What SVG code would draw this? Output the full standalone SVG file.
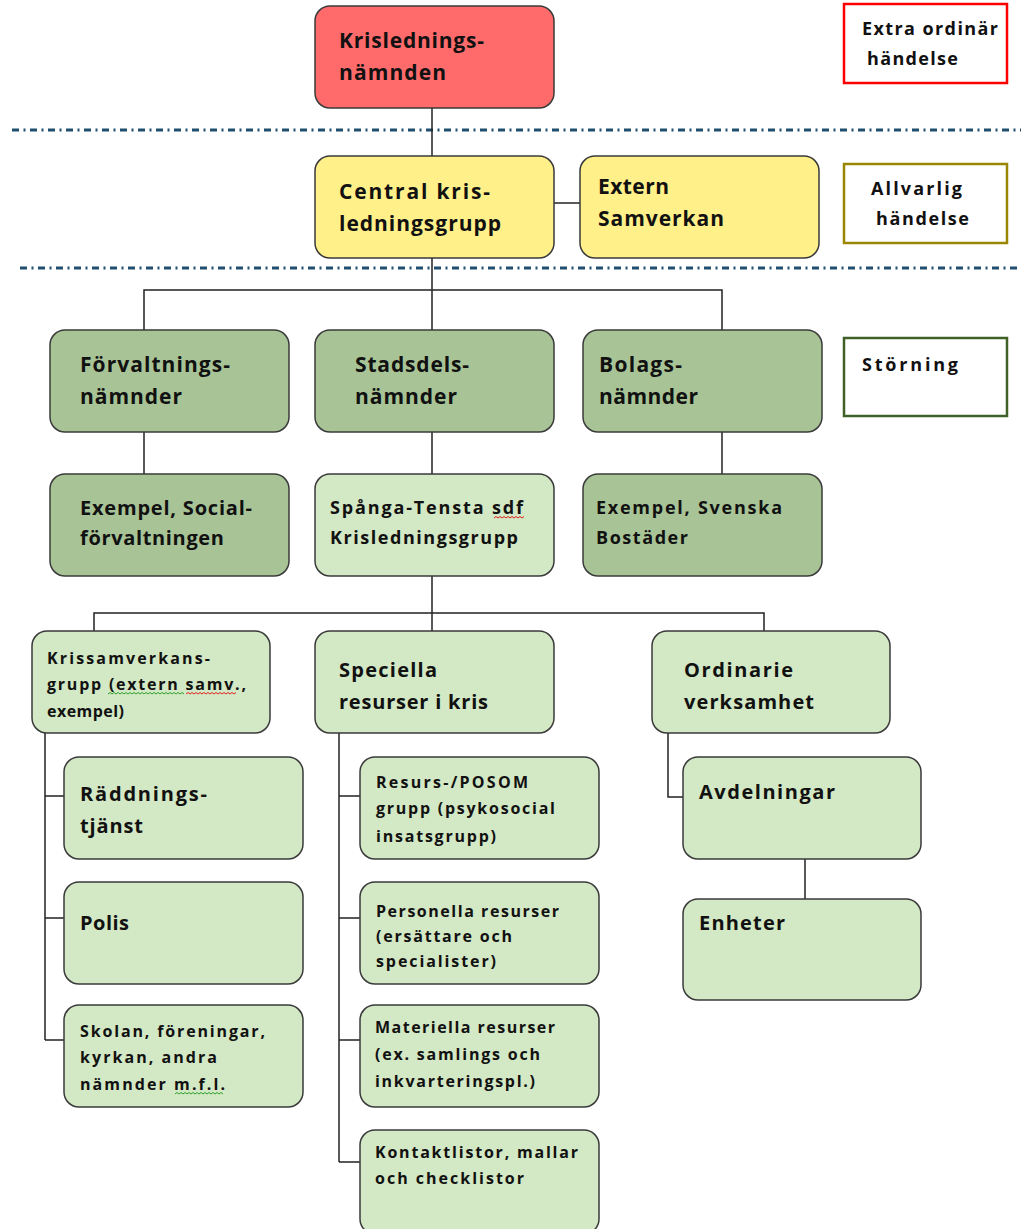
<svg xmlns="http://www.w3.org/2000/svg" width="1021" height="1229" viewBox="0 0 1021 1229">
<defs>
<style>
.n rect{stroke:#3a3a3a;stroke-width:1.5}
.red{fill:#FF6B6B}
.yel{fill:#FFF08A}
.dg{fill:#A8C497}
.lg{fill:#D3E8C4}
text{font-family:"Open Sans",Lato,"Liberation Sans",sans-serif;font-weight:bold;fill:#111}
.t21{font-size:21px}
.t20{font-size:20px}
.t18{font-size:18px}
.t16{font-size:16px}
.conn line,.conn polyline{stroke:#222;stroke-width:1.5;fill:none}
.sep{stroke:#1F4E6E;stroke-width:3;stroke-dasharray:7 4.5 2 4.5;fill:none}
.leg{fill:#fff;stroke-width:2.5}
.sq{fill:none;stroke-width:1}
</style>
</defs>
<rect width="1021" height="1229" fill="#fff"/>

<g id="separators">
<line class="sep" x1="12" y1="130" x2="1021" y2="130"/>
<line class="sep" x1="20" y1="268" x2="1021" y2="268"/>
</g>

<g class="conn" id="connectors">
<line x1="432" y1="108" x2="432" y2="156"/>
<line x1="554" y1="203" x2="580" y2="203"/>
<line x1="432" y1="258" x2="432" y2="330"/>
<polyline points="144,330 144,290 722,290 722,330"/>
<line x1="144" y1="432" x2="144" y2="474"/>
<line x1="432" y1="432" x2="432" y2="474"/>
<line x1="722" y1="432" x2="722" y2="474"/>
<line x1="432" y1="576" x2="432" y2="631"/>
<polyline points="94,631 94,613 764,613 764,631"/>
<line x1="45" y1="733" x2="45" y2="1040"/>
<line x1="45" y1="796" x2="64" y2="796"/>
<line x1="45" y1="918" x2="64" y2="918"/>
<line x1="45" y1="1040" x2="64" y2="1040"/>
<line x1="339" y1="733" x2="339" y2="1162"/>
<line x1="339" y1="796" x2="360" y2="796"/>
<line x1="339" y1="918" x2="360" y2="918"/>
<line x1="339" y1="1040" x2="360" y2="1040"/>
<line x1="339" y1="1162" x2="360" y2="1162"/>
<polyline points="668,733 668,797 683,797"/>
<line x1="805" y1="859" x2="805" y2="899"/>
</g>

<g id="legend-extra">
<rect class="leg" x="844" y="4" width="163" height="79" stroke="#FF0000"/>
<text class="t18" x="862" y="35" textLength="136" lengthAdjust="spacing">Extra ordinär</text>
<text class="t18" x="867" y="65" textLength="91" lengthAdjust="spacing">händelse</text>
</g>
<g id="legend-allvarlig">
<rect class="leg" x="844" y="164" width="163" height="79" stroke="#9A8600"/>
<text class="t18" x="871" y="195" textLength="91" lengthAdjust="spacing">Allvarlig</text>
<text class="t18" x="876" y="225" textLength="93" lengthAdjust="spacing">händelse</text>
</g>
<g id="legend-storning">
<rect class="leg" x="844" y="338" width="163" height="78" stroke="#3F6127"/>
<text class="t18" x="862" y="371" textLength="96" lengthAdjust="spacing">Störning</text>
</g>

<g class="n" id="krisledningsnamnden">
<rect class="red" x="315" y="6" width="239" height="102" rx="15"/>
<text class="t21" x="339" y="48" textLength="145" lengthAdjust="spacing">Krislednings-</text>
<text class="t21" x="339" y="80" textLength="107" lengthAdjust="spacing">nämnden</text>
</g>
<g class="n" id="central">
<rect class="yel" x="315" y="156" width="239" height="102" rx="15"/>
<text class="t21" x="339" y="199" textLength="151" lengthAdjust="spacing">Central kris-</text>
<text class="t21" x="339" y="231" textLength="162" lengthAdjust="spacing">ledningsgrupp</text>
</g>
<g class="n" id="extern">
<rect class="yel" x="580" y="156" width="239" height="102" rx="15"/>
<text class="t21" x="598" y="194" textLength="71" lengthAdjust="spacing">Extern</text>
<text class="t21" x="598" y="226" textLength="126" lengthAdjust="spacing">Samverkan</text>
</g>

<g class="n" id="forvaltningsnamnder">
<rect class="dg" x="50" y="330" width="239" height="102" rx="15"/>
<text class="t21" x="80" y="372" textLength="150" lengthAdjust="spacing">Förvaltnings-</text>
<text class="t21" x="80" y="404" textLength="102" lengthAdjust="spacing">nämnder</text>
</g>
<g class="n" id="stadsdelsnamnder">
<rect class="dg" x="315" y="330" width="239" height="102" rx="15"/>
<text class="t21" x="355" y="372" textLength="114" lengthAdjust="spacing">Stadsdels-</text>
<text class="t21" x="355" y="404" textLength="102" lengthAdjust="spacing">nämnder</text>
</g>
<g class="n" id="bolagsnamnder">
<rect class="dg" x="583" y="330" width="239" height="102" rx="15"/>
<text class="t21" x="599" y="372" textLength="83" lengthAdjust="spacing">Bolags-</text>
<text class="t21" x="599" y="404" textLength="99" lengthAdjust="spacing">nämnder</text>
</g>

<g class="n" id="socialforvaltningen">
<rect class="dg" x="50" y="474" width="239" height="102" rx="15"/>
<text class="t20" x="80" y="515" textLength="172" lengthAdjust="spacing">Exempel, Social-</text>
<text class="t20" x="80" y="545" textLength="144" lengthAdjust="spacing">förvaltningen</text>
</g>
<g class="n" id="spanga">
<rect class="lg" x="315" y="474" width="239" height="102" rx="15"/>
<text class="t18" x="330" y="514" textLength="193" lengthAdjust="spacing">Spånga-Tensta sdf</text>
<text class="t18" x="330" y="544" textLength="188" lengthAdjust="spacing">Krisledningsgrupp</text>
<path class="sq" stroke="#E02020" d="M494 518 l2 -1.5 l2 1.5 l2 -1.5 l2 1.5 l2 -1.5 l2 1.5 l2 -1.5 l2 1.5 l2 -1.5 l2 1.5 l2 -1.5 l2 1.5 l2 -1.5 l2 1.5 l2 -1.5"/>
</g>
<g class="n" id="svenskabostader">
<rect class="dg" x="583" y="474" width="239" height="102" rx="15"/>
<text class="t18" x="596" y="514" textLength="186" lengthAdjust="spacing">Exempel, Svenska</text>
<text class="t18" x="596" y="544" textLength="92" lengthAdjust="spacing">Bostäder</text>
</g>

<g class="n" id="krissamverkansgrupp">
<rect class="lg" x="32" y="631" width="238" height="102" rx="15"/>
<text class="t16" x="47" y="664" textLength="163" lengthAdjust="spacing">Krissamverkans-</text>
<text class="t16" x="47" y="690" textLength="199" lengthAdjust="spacing">grupp (extern samv.,</text>
<text class="t16" x="47" y="717" textLength="77" lengthAdjust="spacing">exempel)</text>
<path class="sq" stroke="#2BA02B" d="M108 694 l2 -1.5 l2 1.5 l2 -1.5 l2 1.5 l2 -1.5 l2 1.5 l2 -1.5 l2 1.5 l2 -1.5 l2 1.5 l2 -1.5 l2 1.5 l2 -1.5 l2 1.5 l2 -1.5 l2 1.5 l2 -1.5 l2 1.5 l2 -1.5 l2 1.5 l2 -1.5 l2 1.5 l2 -1.5 l2 1.5 l2 -1.5 l2 1.5 l2 -1.5 l2 1.5 l2 -1.5 l2 1.5 l2 -1.5 l2 1.5 l2 -1.5 l2 1.5 l2 -1.5 l2 1.5 l2 -1.5 l2 1.5"/>
<path class="sq" stroke="#E02020" d="M186 694 l2 -1.5 l2 1.5 l2 -1.5 l2 1.5 l2 -1.5 l2 1.5 l2 -1.5 l2 1.5 l2 -1.5 l2 1.5 l2 -1.5 l2 1.5 l2 -1.5 l2 1.5 l2 -1.5 l2 1.5 l2 -1.5 l2 1.5 l2 -1.5 l2 1.5 l2 -1.5 l2 1.5 l2 -1.5 l2 1.5 l2 -1.5"/>
</g>
<g class="n" id="speciella">
<rect class="lg" x="315" y="631" width="239" height="102" rx="15"/>
<text class="t20" x="339" y="677" textLength="98" lengthAdjust="spacing">Speciella</text>
<text class="t20" x="339" y="709" textLength="149" lengthAdjust="spacing">resurser i kris</text>
</g>
<g class="n" id="ordinarie">
<rect class="lg" x="652" y="631" width="238" height="102" rx="15"/>
<text class="t20" x="684" y="677" textLength="109" lengthAdjust="spacing">Ordinarie</text>
<text class="t20" x="684" y="709" textLength="130" lengthAdjust="spacing">verksamhet</text>
</g>

<g class="n" id="raddningstjanst">
<rect class="lg" x="64" y="757" width="239" height="102" rx="15"/>
<text class="t20" x="80" y="801" textLength="127" lengthAdjust="spacing">Räddnings-</text>
<text class="t20" x="80" y="833" textLength="63" lengthAdjust="spacing">tjänst</text>
</g>
<g class="n" id="polis">
<rect class="lg" x="64" y="882" width="239" height="102" rx="15"/>
<text class="t20" x="80" y="930" textLength="49" lengthAdjust="spacing">Polis</text>
</g>
<g class="n" id="skolan">
<rect class="lg" x="64" y="1005" width="239" height="102" rx="15"/>
<text class="t16" x="80" y="1037" textLength="185" lengthAdjust="spacing">Skolan, föreningar,</text>
<text class="t16" x="80" y="1063" textLength="137" lengthAdjust="spacing">kyrkan, andra</text>
<text class="t16" x="80" y="1090" textLength="145" lengthAdjust="spacing">nämnder m.f.l.</text>
<path class="sq" stroke="#2BA02B" d="M175 1094 l2 -1.5 l2 1.5 l2 -1.5 l2 1.5 l2 -1.5 l2 1.5 l2 -1.5 l2 1.5 l2 -1.5 l2 1.5 l2 -1.5 l2 1.5 l2 -1.5 l2 1.5 l2 -1.5 l2 1.5 l2 -1.5 l2 1.5 l2 -1.5 l2 1.5 l2 -1.5 l2 1.5 l2 -1.5 l2 1.5"/>
</g>

<g class="n" id="posom">
<rect class="lg" x="360" y="757" width="239" height="102" rx="15"/>
<text class="t16" x="376" y="788" textLength="152" lengthAdjust="spacing">Resurs-/POSOM</text>
<text class="t16" x="376" y="814" textLength="179" lengthAdjust="spacing">grupp (psykosocial</text>
<text class="t16" x="376" y="842" textLength="120" lengthAdjust="spacing">insatsgrupp)</text>
</g>
<g class="n" id="personella">
<rect class="lg" x="360" y="882" width="239" height="102" rx="15"/>
<text class="t16" x="376" y="917" textLength="183" lengthAdjust="spacing">Personella resurser</text>
<text class="t16" x="376" y="942" textLength="136" lengthAdjust="spacing">(ersättare och</text>
<text class="t16" x="376" y="967" textLength="120" lengthAdjust="spacing">specialister)</text>
</g>
<g class="n" id="materiella">
<rect class="lg" x="360" y="1005" width="239" height="102" rx="15"/>
<text class="t16" x="375" y="1033" textLength="180" lengthAdjust="spacing">Materiella resurser</text>
<text class="t16" x="375" y="1060" textLength="165" lengthAdjust="spacing">(ex. samlings och</text>
<text class="t16" x="375" y="1087" textLength="160" lengthAdjust="spacing">inkvarteringspl.)</text>
</g>
<g class="n" id="kontaktlistor">
<rect class="lg" x="360" y="1130" width="239" height="104" rx="15"/>
<text class="t16" x="375" y="1158" textLength="203" lengthAdjust="spacing">Kontaktlistor, mallar</text>
<text class="t16" x="375" y="1184" textLength="149" lengthAdjust="spacing">och checklistor</text>
</g>

<g class="n" id="avdelningar">
<rect class="lg" x="683" y="757" width="238" height="102" rx="15"/>
<text class="t20" x="699" y="799" textLength="136" lengthAdjust="spacing">Avdelningar</text>
</g>
<g class="n" id="enheter">
<rect class="lg" x="683" y="899" width="238" height="101" rx="15"/>
<text class="t20" x="699" y="930" textLength="86" lengthAdjust="spacing">Enheter</text>
</g>
</svg>
